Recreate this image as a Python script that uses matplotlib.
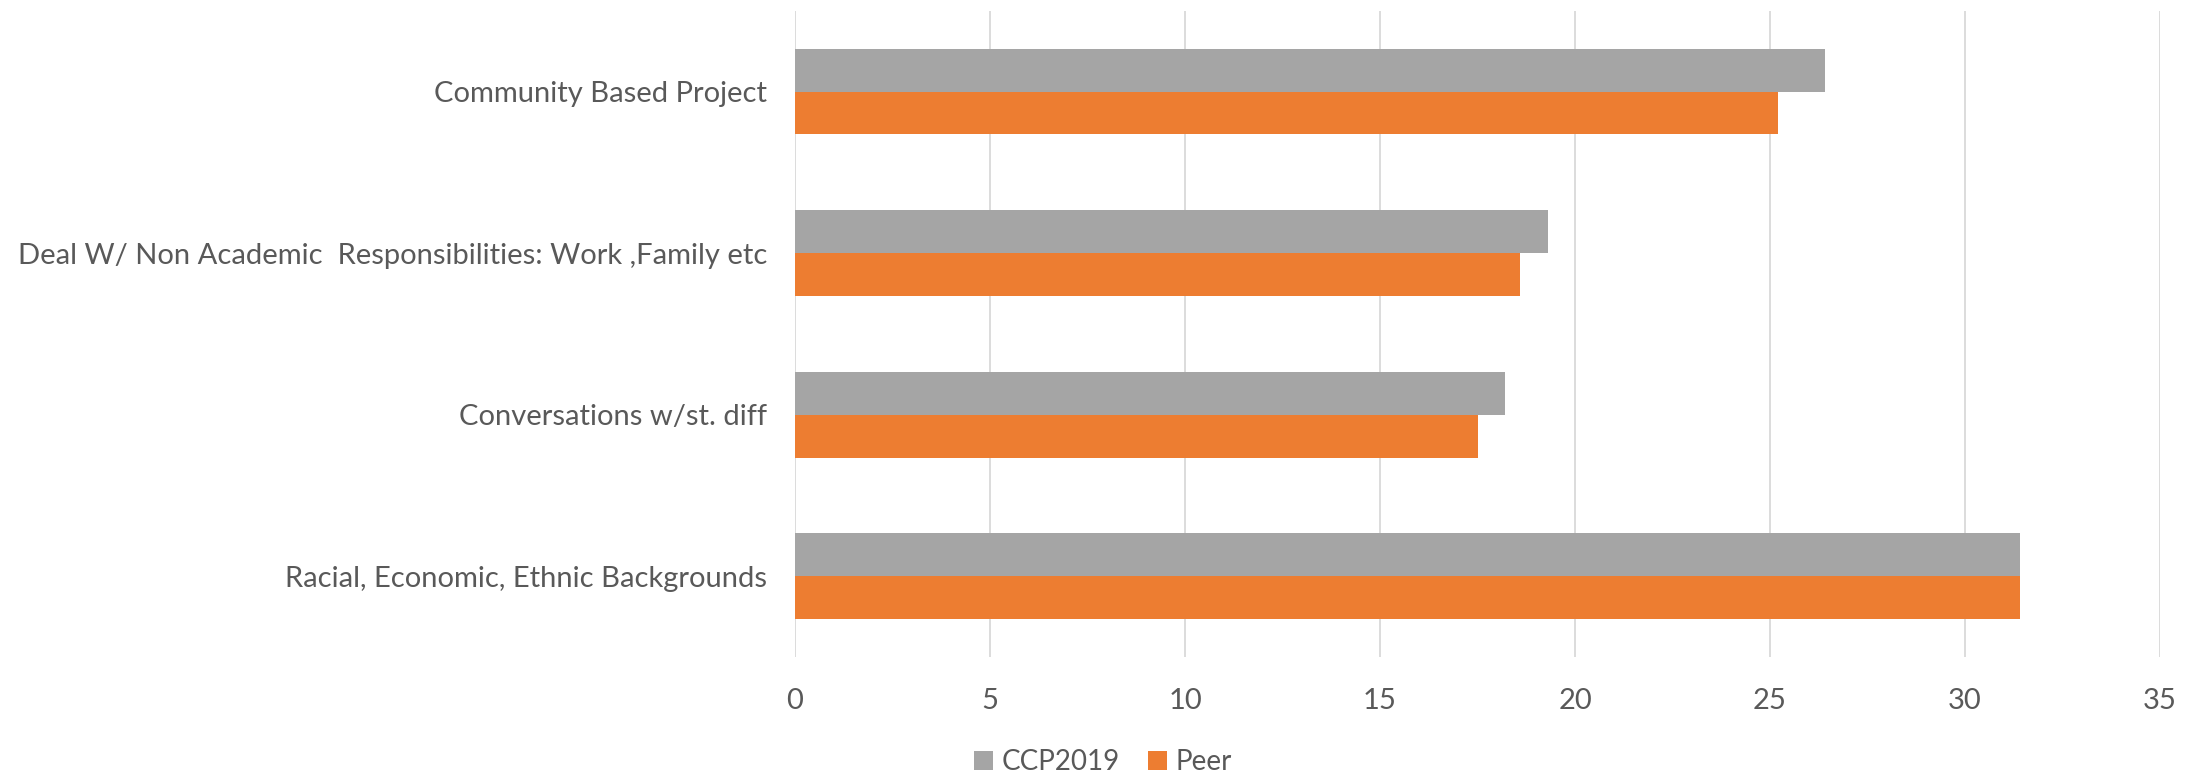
import matplotlib.pyplot as plt
import numpy as np

categories = ['Racial, Economic, Ethnic Backgrounds',
              'Conversations w/st. diff',
              'Deal W/ Non Academic  Responsibilities: Work ,Family etc',
              'Community Based Project']
ccp2019 = [31.4, 18.2, 19.3, 26.4]
peer = [31.4, 17.5, 18.6, 25.2]
xticks = [0, 5, 10, 15, 20, 25, 30, 35]

plt.rcParams['font.family'] = ['Lato', 'DejaVu Sans']
txt = '#595959'

fig = plt.figure(figsize=(22.01, 7.78), dpi=100)
ax = fig.add_axes([0.3612, 0.1555, 0.6202, 0.8305])

y = np.arange(len(categories))
h = 0.265
ax.barh(y + h / 2, ccp2019, height=h, color='#A5A5A5', label='CCP2019', zorder=2)
ax.barh(y - h / 2, peer, height=h, color='#ED7D31', label='Peer', zorder=2)

ax.set_xlim(0, 35)
ax.set_ylim(-0.5, len(categories) - 0.5)
ax.set_xticks(xticks)
ax.set_yticks(y)
ax.set_yticklabels(categories)
ax.tick_params(axis='both', length=0, labelsize=21, colors=txt)
ax.tick_params(axis='x', pad=22)
ax.tick_params(axis='y', pad=20)
ax.grid(axis='x', color='#D9D9D9', linewidth=1.3, zorder=0)
for s in ax.spines.values():
    s.set_visible(False)

fig.legend(loc='center', bbox_to_anchor=(0.501, 0.02), ncol=2, frameon=False,
           fontsize=20, labelcolor=txt, handlelength=0.7, handleheight=0.7,
           handletextpad=0.3, columnspacing=1.0)

fig.savefig('out.png', dpi=100)
